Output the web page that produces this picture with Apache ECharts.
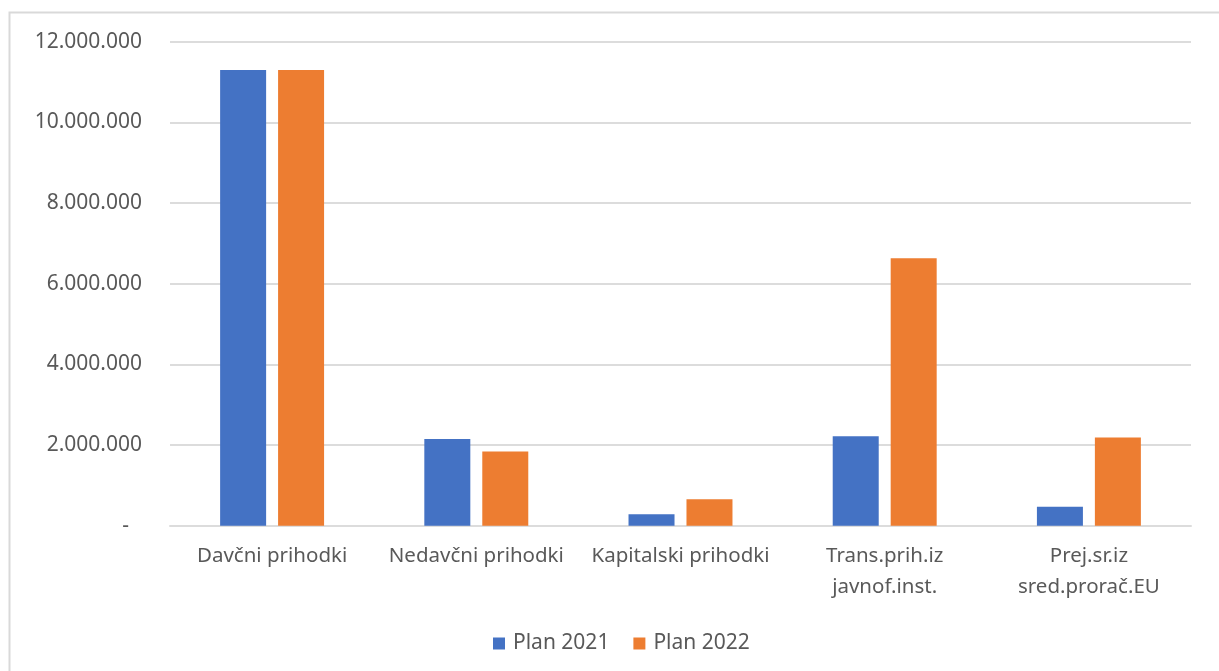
<!DOCTYPE html>
<html>
<head>
<meta charset="utf-8">
<style>
  html, body { margin: 0; padding: 0; background: #ffffff; }
  #chart { width: 1219px; height: 671px; }
</style>
<script src="https://cdn.jsdelivr.net/npm/echarts@6/dist/echarts.min.js"></script>
</head>
<body>
<div id="chart"></div>
<script>
// Revenue categories (budget plan comparison)
const categories = [
  'Davčni prihodki',
  'Nedavčni prihodki',
  'Kapitalski prihodki',
  'Trans.prih.iz\njavnof.inst.',
  'Prej.sr.iz\nsred.prorač.EU'
];
const seriesNames = ['Plan 2021', 'Plan 2022'];
const plan2021 = [11300000, 2150000, 285000, 2220000, 470000];
const plan2022 = [11300000, 1840000, 660000, 6630000, 2190000];

const axisFont = '"Noto Sans", "Open Sans", sans-serif';
const textGray = '#595959';
const gridGray = '#dcdcdc';

function formatThousands(v) {
  if (v === 0) return '{dash|-}';
  return String(v).replace(/\B(?=(\d{3})+(?!\d))/g, '.');
}

const chart = echarts.init(document.getElementById('chart'), null, { renderer: 'canvas' });

chart.setOption({
  animation: false,
  backgroundColor: '#ffffff',
  color: ['#4472C4', '#ED7D31'],
  graphic: [{
    type: 'rect',
    shape: { x: 9.5, y: 12.5, width: 1300, height: 800 },
    style: { fill: 'none', stroke: '#d9d9d9', lineWidth: 2 },
    silent: true,
    z: 0
  }],
  grid: { left: 170, right: 28, top: 41.7, bottom: 145.2, containLabel: false },
  legend: {
    data: seriesNames,
    left: 488,
    top: 628,
    itemWidth: 12,
    itemHeight: 12,
    itemGap: 24,
    icon: 'rect',
    textStyle: { fontFamily: axisFont, fontSize: 21, color: textGray, padding: [0, 0, 0, 3] }
  },
  xAxis: {
    type: 'category',
    data: categories,
    axisTick: { show: false },
    axisLine: { lineStyle: { color: gridGray, width: 2 } },
    axisLabel: {
      interval: 0,
      margin: 15,
      fontFamily: axisFont,
      fontSize: 20.5,
      lineHeight: 31,
      color: textGray
    }
  },
  yAxis: {
    type: 'value',
    min: 0,
    max: 12000000,
    interval: 2000000,
    axisLine: { show: false },
    axisTick: { show: false },
    splitLine: { lineStyle: { color: gridGray, width: 2 } },
    axisLabel: {
      margin: 28,
      fontFamily: axisFont,
      fontSize: 21,
      color: textGray,
      formatter: formatThousands,
      rich: {
        dash: { fontFamily: axisFont, fontSize: 21, color: textGray, padding: [0, 13, 0, 0] }
      }
    }
  },
  series: [
    {
      name: seriesNames[0],
      type: 'bar',
      data: plan2021,
      barWidth: 46,
      barGap: '26%'
    },
    {
      name: seriesNames[1],
      type: 'bar',
      data: plan2022,
      barWidth: 46,
      barGap: '26%'
    }
  ]
});
</script>
</body>
</html>
